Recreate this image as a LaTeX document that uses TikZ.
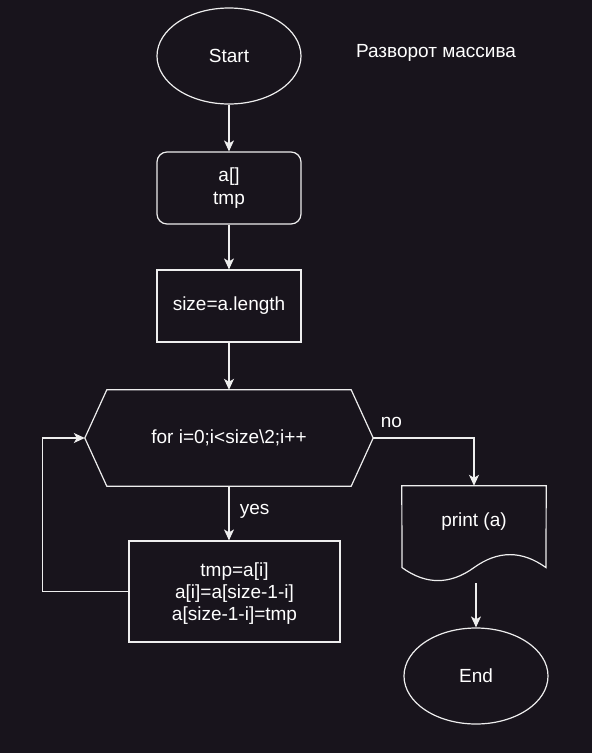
\documentclass[tikz,border=0pt]{standalone}
\usepackage{fontspec}
\setmainfont{Liberation Sans}
\usetikzlibrary{arrows.meta,shapes.geometric,positioning}
\definecolor{bgdark}{RGB}{24,20,28}
\definecolor{linegray}{RGB}{238,238,238}

\begin{document}
\begin{tikzpicture}[x=1pt,y=-1pt,
	every node/.style={text=white,font=\fontsize{19}{21.7}\selectfont},
	box/.style={draw=linegray,line width=1.2pt,minimum width=144pt,minimum height=72pt,align=center,inner sep=0pt},
	oval/.style={draw=linegray,line width=1.2pt,ellipse,minimum width=144pt,minimum height=96pt,inner sep=0pt},
	outline/.style={draw=linegray,line width=1.2pt},
	arr/.style={draw=linegray,line width=1.2pt,-{Stealth[length=11pt,width=10pt,inset=3pt]}}]
	\fill[bgdark] (0,0) rectangle (592,753);
	\useasboundingbox (0,0) rectangle (592,753);
	
	\node[oval] (start) at (229,56) {Start};
	\node (title) at (436,53) {Разворот массива};
	\node[box,rounded corners=10pt] (vars) at (229,188) {a[]\\[1pt]tmp};
	\node[box] (size) at (229,306) {size=a.length};
	% loop header (hexagon)
	\node[minimum width=288pt,minimum height=96pt,inner sep=0pt] (loop) at (229,438) {for i=0;i<size\textbackslash 2;i++};
	\draw[outline] (loop.west) -- ([xshift=22pt]loop.north west) -- ([xshift=-22pt]loop.north east) -- (loop.east)
		-- ([xshift=-22pt]loop.south east) -- ([xshift=22pt]loop.south west) -- cycle;
	\node[box,minimum width=211pt,minimum height=101pt] (body) at (234.5,591.5) {\rule{0pt}{18pt}tmp=a[i]\\a[i]=a[size-1-i]\\a[size-1-i]=tmp};
	% output (document shape)
	\node[minimum width=144pt,minimum height=72pt,inner sep=0pt] (print) at (474,522) {print (a)};
	\draw[outline] (402,567.6) -- (print.north west) -- (print.north east) -- (546,567.6)
		.. controls (522,550.3) and (498,550.3) .. (474,567.6)
		.. controls (450,584.9) and (426,584.9) .. (402,567.6) -- cycle;
	\coordinate (printout) at (476,583);
	\node[oval] (end) at (476,676) {End};
	
	\draw[arr] (start) -- (vars);
	\draw[arr] (vars) -- (size);
	\draw[arr] (size) -- (loop);
	\draw[arr] (loop.south) -- node[right=7pt,yshift=2pt]{yes} (loop.south |- body.north);
	\draw[arr] (loop.east) -| node[pos=0.09,above=6pt]{no} (print.north);
	\draw[arr] (body.west) -- ++(-86,0) |- (loop.west);
	\draw[arr] (printout) -- (end);
\end{tikzpicture}
\end{document}
